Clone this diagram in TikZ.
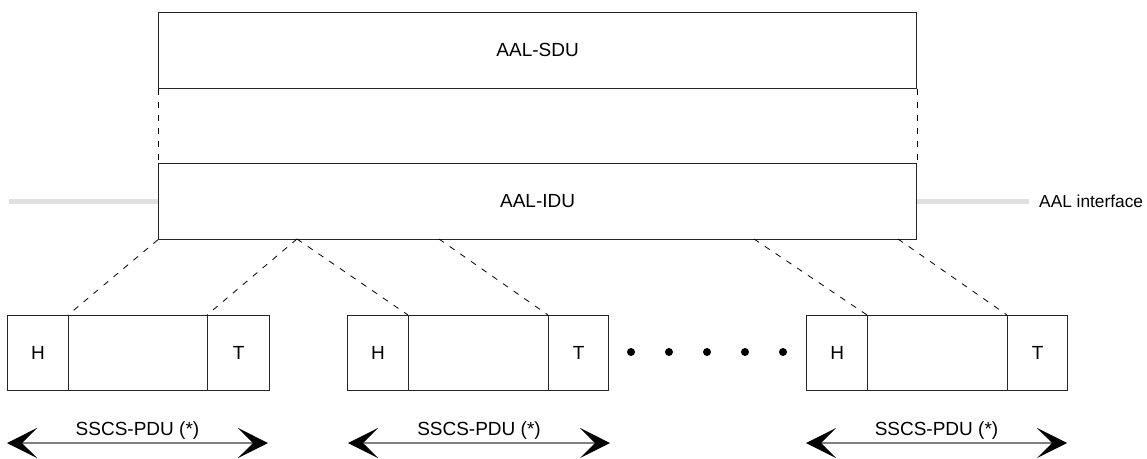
\documentclass[tikz,border=0pt]{standalone}
\usepackage{fontspec}
\setmainfont{Liberation Sans}
\usetikzlibrary{arrows.meta}
\begin{document}
\begin{tikzpicture}[x=1pt,y=-1pt,
  every node/.style={font=\fontsize{19}{22}\selectfont, text=black},
  bigbox/.style={draw=black!85, line width=1.2pt, anchor=north west, inner sep=0pt, minimum height=75.5pt},
  cell/.style={draw=black!85, line width=1.2pt, anchor=north west, inner sep=0pt, minimum height=75pt},
  dashline/.style={black, line width=0.8pt, dash pattern=on 6pt off 7pt},
  iface/.style={draw=black!12, line width=5pt},
  pdu/.style={draw=black!50, line width=1.6pt, {Stealth[length=30pt,width=30pt,inset=15pt,color=black]}-{Stealth[length=30pt,width=30pt,inset=15pt,color=black]}},
  dot/.style={circle, fill=black, inner sep=0pt, minimum size=8pt}
]
\useasboundingbox (0,0) rectangle (1147,458);

% interface line
\coordinate (ifl) at (9,201);
\coordinate (ifr) at (1029,201);
\node[bigbox, minimum width=758pt] (sdu) at (158,12) {AAL-SDU};
\node[bigbox, minimum width=758pt] (idu) at (158,163) {AAL-IDU};
\draw[iface] (ifl) -- (idu.west |- ifl);
\draw[iface] (idu.east |- ifr) -- (ifr);
\node[anchor=west, inner sep=0pt, font=\fontsize{17.3}{20}\selectfont] (iftxt) at (1039,201) {AAL interface};

\draw[dashline] (sdu.south west) -- (idu.north west);
\draw[dashline] (sdu.south east) -- (idu.north east);

% PDU boxes
\node[cell, minimum width=61pt] (h1) at (7,315) {H};
\node[cell, minimum width=139pt] (m1) at (68,315) {};
\node[cell, minimum width=62pt] (t1) at (207,315) {T};
\node[cell, minimum width=61pt] (h2) at (347,315) {H};
\node[cell, minimum width=140pt] (m2) at (408,315) {};
\node[cell, minimum width=60pt] (t2) at (548,315) {T};
\node[cell, minimum width=61pt] (h3) at (806,315) {H};
\node[cell, minimum width=140pt] (m3) at (867,315) {};
\node[cell, minimum width=60pt] (t3) at (1007,315) {T};

% mapping lines
\coordinate (p1) at (297,239);
\coordinate (p2) at (439,239);
\coordinate (p3) at (754,239);
\coordinate (p4) at (898,239);
\draw[dashline] (idu.south west) -- (m1.north west);
\draw[dashline] (p1) -- (t1.north west);
\draw[dashline] (p1) -- (m2.north west);
\draw[dashline] (p2) -- (t2.north west);
\draw[dashline] (p3) -- (m3.north west);
\draw[dashline] (p4) -- (t3.north west);

% dots
\foreach \i/\x in {1/631,2/669,3/707,4/745,5/783} \node[dot] (d\i) at (\x,352) {};

% PDU arrows
\coordinate (a1l) at (7,443); \coordinate (a1r) at (268,443);
\coordinate (a2l) at (348,443); \coordinate (a2r) at (610,443);
\coordinate (a3l) at (806,443); \coordinate (a3r) at (1067,443);
\draw[pdu] (a1l) -- node[above=3pt, inner sep=0pt] (l1) {SSCS-PDU (*)} (a1r);
\draw[pdu] (a2l) -- node[above=3pt, inner sep=0pt] (l2) {SSCS-PDU (*)} (a2r);
\draw[pdu] (a3l) -- node[above=3pt, inner sep=0pt] (l3) {SSCS-PDU (*)} (a3r);
\end{tikzpicture}
\end{document}
